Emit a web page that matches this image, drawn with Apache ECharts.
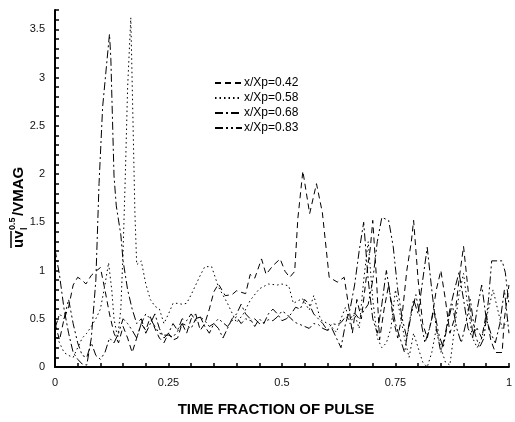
<!DOCTYPE html>
<html>
<head>
<meta charset="utf-8">
<script src="https://cdn.jsdelivr.net/npm/echarts@6/dist/echarts.min.js"></script>
<style>
  html, body { margin: 0; padding: 0; background: #fff; }
  #chart { width: 515px; height: 422px; }
</style>
</head>
<body>
<div id="chart"></div>
<script>
// series names (legend)
var seriesNames = ["x/Xp=0.42", "x/Xp=0.58", "x/Xp=0.68", "x/Xp=0.83"];
// tick labels shown on the axes
var xTickLabels = [0, 0.25, 0.5, 0.75, 1];
var yTickLabels = [0, 0.5, 1, 1.5, 2, 2.5, 3, 3.5];

// [time fraction, value]
var s042 = [[0,0.45],[0.01,0.28],[0.02,0.5],[0.03,0.62],[0.04,0.85],[0.05,0.93],[0.06,0.9],[0.068,0.86],[0.08,0.95],[0.092,1.0],[0.1,1.03],[0.11,0.8],[0.12,0.55],[0.13,0.35],[0.14,0.25],[0.15,0.42],[0.16,0.3],[0.17,0.15],[0.18,0.3],[0.19,0.45],[0.2,0.38],[0.21,0.52],[0.22,0.4],[0.23,0.3],[0.24,0.25],[0.25,0.35],[0.26,0.28],[0.27,0.3],[0.28,0.45],[0.29,0.35],[0.3,0.5],[0.31,0.55],[0.32,0.38],[0.33,0.45],[0.34,0.6],[0.35,0.78],[0.36,0.86],[0.375,0.74],[0.39,0.75],[0.4,0.79],[0.42,0.76],[0.43,0.96],[0.44,0.92],[0.455,1.12],[0.465,0.96],[0.48,1.05],[0.496,1.12],[0.507,0.99],[0.517,0.93],[0.528,0.99],[0.535,1.54],[0.546,2.03],[0.561,1.59],[0.576,1.9],[0.589,1.6],[0.604,0.93],[0.622,0.88],[0.637,0.93],[0.648,0.6],[0.655,0.35],[0.665,0.7],[0.675,0.5],[0.685,0.9],[0.695,1.25],[0.7,1.52],[0.708,0.93],[0.715,0.28],[0.725,0.6],[0.735,0.85],[0.745,0.5],[0.755,0.3],[0.765,0.55],[0.775,1.0],[0.785,1.3],[0.79,1.52],[0.8,0.9],[0.81,0.45],[0.82,0.3],[0.83,0.5],[0.84,0.8],[0.85,1.0],[0.86,0.7],[0.87,0.35],[0.88,0.5],[0.89,0.9],[0.9,1.25],[0.91,0.8],[0.92,0.35],[0.93,0.4],[0.94,0.3],[0.95,0.55],[0.96,0.28],[0.97,0.15],[0.985,0.15],[0.99,0.5],[1,0.85]];
var s058 = [[0,0.35],[0.01,0.25],[0.02,0.15],[0.03,0.12],[0.04,0.1],[0.05,0.2],[0.06,0.3],[0.07,0.35],[0.08,0.42],[0.09,0.5],[0.1,0.6],[0.11,0.85],[0.118,1.08],[0.125,0.8],[0.13,0.5],[0.138,0.3],[0.145,0.6],[0.15,1.2],[0.155,2.0],[0.16,2.9],[0.167,3.62],[0.172,2.5],[0.176,1.6],[0.18,1.06],[0.19,1.1],[0.2,0.86],[0.21,0.7],[0.22,0.63],[0.23,0.6],[0.24,0.45],[0.25,0.55],[0.26,0.66],[0.27,0.66],[0.28,0.65],[0.29,0.66],[0.3,0.75],[0.31,0.85],[0.32,0.95],[0.33,1.04],[0.345,1.04],[0.36,0.83],[0.38,0.66],[0.4,0.46],[0.415,0.55],[0.43,0.69],[0.45,0.81],[0.47,0.86],[0.49,0.85],[0.5,0.86],[0.515,0.84],[0.525,0.66],[0.545,0.71],[0.56,0.59],[0.57,0.74],[0.585,0.49],[0.605,0.44],[0.62,0.36],[0.63,0.5],[0.64,0.62],[0.65,0.45],[0.66,0.55],[0.67,0.4],[0.68,0.9],[0.69,1.3],[0.7,0.7],[0.71,0.3],[0.72,0.2],[0.73,0.25],[0.74,0.4],[0.75,0.8],[0.76,0.55],[0.77,0.3],[0.78,0.1],[0.79,0.35],[0.8,0.2],[0.81,0.05],[0.82,0.0],[0.83,0.15],[0.84,0.4],[0.85,0.2],[0.86,0.05],[0.87,0.02],[0.88,0.4],[0.89,0.75],[0.9,0.97],[0.91,0.6],[0.92,0.3],[0.93,0.2],[0.94,0.3],[0.95,0.5],[0.965,0.8],[0.975,0.6],[0.985,0.4],[1,0.5]];
var s068 = [[0,1.22],[0.01,0.95],[0.02,0.6],[0.03,0.35],[0.04,0.15],[0.05,0.08],[0.06,0.03],[0.07,0.02],[0.08,0.3],[0.09,0.9],[0.097,1.9],[0.105,2.7],[0.12,3.45],[0.123,3.2],[0.13,1.98],[0.135,1.67],[0.145,1.37],[0.15,1.1],[0.16,0.8],[0.17,0.6],[0.18,0.45],[0.19,0.5],[0.2,0.35],[0.21,0.45],[0.22,0.55],[0.23,0.4],[0.24,0.3],[0.25,0.35],[0.26,0.45],[0.27,0.38],[0.28,0.5],[0.29,0.48],[0.3,0.55],[0.31,0.48],[0.32,0.52],[0.33,0.42],[0.34,0.35],[0.35,0.45],[0.36,0.4],[0.37,0.3],[0.38,0.4],[0.39,0.5],[0.4,0.55],[0.41,0.65],[0.42,0.55],[0.43,0.5],[0.44,0.42],[0.45,0.5],[0.46,0.45],[0.47,0.55],[0.48,0.6],[0.49,0.55],[0.5,0.48],[0.51,0.5],[0.52,0.55],[0.53,0.62],[0.54,0.6],[0.55,0.7],[0.56,0.65],[0.57,0.55],[0.58,0.5],[0.59,0.45],[0.6,0.38],[0.61,0.4],[0.62,0.3],[0.63,0.2],[0.64,0.45],[0.65,0.6],[0.66,0.85],[0.67,1.2],[0.68,1.5],[0.69,0.9],[0.7,0.5],[0.71,0.35],[0.72,0.65],[0.73,1.0],[0.74,0.7],[0.75,0.45],[0.76,0.3],[0.77,0.15],[0.78,0.45],[0.79,0.7],[0.8,0.55],[0.81,0.9],[0.82,1.24],[0.83,0.8],[0.84,0.4],[0.85,0.15],[0.86,0.35],[0.87,0.6],[0.88,0.8],[0.89,0.98],[0.9,0.7],[0.91,0.4],[0.92,0.3],[0.93,0.6],[0.94,0.85],[0.95,0.5],[0.96,0.35],[0.97,0.25],[0.98,0.45],[0.99,0.8],[1,0.35]];
var s083 = [[0,0.4],[0.01,0.55],[0.02,0.5],[0.03,0.7],[0.04,0.45],[0.05,0.25],[0.06,0.12],[0.07,0.1],[0.08,0.25],[0.09,0.12],[0.1,0.08],[0.11,0.15],[0.12,0.3],[0.13,0.25],[0.14,0.35],[0.15,0.5],[0.16,0.45],[0.17,0.38],[0.18,0.3],[0.19,0.45],[0.2,0.55],[0.21,0.5],[0.22,0.42],[0.23,0.35],[0.24,0.33],[0.25,0.33],[0.26,0.31],[0.27,0.37],[0.28,0.45],[0.29,0.43],[0.3,0.4],[0.31,0.5],[0.32,0.52],[0.33,0.48],[0.34,0.42],[0.35,0.45],[0.36,0.5],[0.37,0.46],[0.38,0.42],[0.39,0.48],[0.4,0.52],[0.41,0.45],[0.42,0.5],[0.43,0.48],[0.44,0.5],[0.45,0.45],[0.46,0.46],[0.47,0.49],[0.48,0.48],[0.49,0.52],[0.5,0.58],[0.51,0.55],[0.52,0.5],[0.53,0.46],[0.54,0.44],[0.55,0.42],[0.56,0.4],[0.57,0.45],[0.58,0.44],[0.59,0.4],[0.6,0.38],[0.61,0.45],[0.62,0.44],[0.63,0.46],[0.64,0.52],[0.65,0.5],[0.66,0.56],[0.67,0.5],[0.68,0.58],[0.69,0.65],[0.7,0.9],[0.71,1.3],[0.72,1.55],[0.735,1.52],[0.745,1.25],[0.755,0.8],[0.765,0.5],[0.775,0.3],[0.785,0.55],[0.795,0.75],[0.805,0.5],[0.815,0.25],[0.825,0.4],[0.835,0.6],[0.845,0.35],[0.855,0.2],[0.865,0.45],[0.875,0.65],[0.885,0.4],[0.895,0.25],[0.905,0.45],[0.915,0.7],[0.925,0.35],[0.935,0.2],[0.945,0.3],[0.955,0.7],[0.962,1.1],[0.985,1.1],[0.992,0.98],[1,0.65]];

var seriesData = [s042, s058, s068, s083];
// dash patterns: dashed, dotted, dash-dot, dash-dot-dot
var dashTypes = [[6, 4], [1.5, 3], [8, 3, 2, 3], [8, 3, 2, 3, 2, 3]];

var FONT = "'Liberation Sans', Arial, sans-serif";

function isTick(v, list) {
  for (var i = 0; i < list.length; i++) {
    if (Math.abs(v - list[i]) < 1e-6) return true;
  }
  return false;
}

var chart = echarts.init(document.getElementById("chart"));

var option = {
  animation: false,
  backgroundColor: "#fff",
  grid: { left: 55, right: 4, top: 10, bottom: 47 },
  legend: {
    orient: "vertical",
    left: 209,
    top: 72,
    itemWidth: 27,
    itemHeight: 10,
    itemGap: 3,
    itemStyle: { opacity: 0 },
    textStyle: { fontFamily: FONT, fontSize: 12, color: "#000", padding: [0, 0, 0, -3] },
    data: seriesNames
  },
  xAxis: {
    type: "value",
    min: 0,
    max: 1,
    interval: 0.05,
    name: "TIME FRACTION OF PULSE",
    nameLocation: "middle",
    nameGap: 35,
    nameTextStyle: { fontFamily: FONT, fontSize: 15, fontWeight: "bold", color: "#000", padding: [0, 0, 0, -12] },
    axisLine: { lineStyle: { color: "#000", width: 2 } },
    axisTick: { inside: true, length: 4, lineStyle: { color: "#000", width: 1.5 } },
    axisLabel: {
      fontFamily: FONT, fontSize: 11, color: "#111", margin: 10,
      formatter: function (v) { return isTick(v, xTickLabels) ? String(+v.toFixed(2)) : ""; }
    },
    splitLine: { show: false }
  },
  yAxis: {
    type: "value",
    min: 0,
    max: 3.7,
    interval: 0.1,
    axisLine: { lineStyle: { color: "#000", width: 2 } },
    axisTick: { inside: true, length: 4, lineStyle: { color: "#000", width: 1.5 } },
    axisLabel: {
      fontFamily: FONT, fontSize: 11, color: "#111", margin: 10,
      formatter: function (v) { return isTick(v, yTickLabels) ? String(+v.toFixed(1)) : ""; }
    },
    splitLine: { show: false }
  },
  graphic: [
    {
      // y axis title: overlined uv with sub l and sup 0.5, then /VMAG
      type: "group",
      x: 26,
      y: 248,
      rotation: Math.PI / 2,
      children: [
        { type: "text", x: 0, y: 0, style: { text: "uv", font: "bold 15px " + FONT, fill: "#000", textVerticalAlign: "bottom" } },
        { type: "line", shape: { x1: 0, y1: -15, x2: 17, y2: -15 }, style: { stroke: "#000", lineWidth: 1.5 } },
        { type: "text", x: 18, y: 3, style: { text: "l", font: "bold 9px " + FONT, fill: "#000", textVerticalAlign: "bottom" } },
        { type: "text", x: 18, y: -9, style: { text: "0.5", font: "bold 9px " + FONT, fill: "#000", textVerticalAlign: "bottom" } },
        { type: "text", x: 32, y: 0, style: { text: "/VMAG", font: "bold 15px " + FONT, fill: "#000", textVerticalAlign: "bottom" } }
      ]
    }
  ],
  series: seriesNames.map(function (name, i) {
    return {
      name: name,
      type: "line",
      data: seriesData[i],
      symbol: "none",
      clip: true,
      lineStyle: { color: "#000", width: 1, type: dashTypes[i] },
      itemStyle: { color: "#000" }
    };
  })
};

chart.setOption(option);
</script>
</body>
</html>
